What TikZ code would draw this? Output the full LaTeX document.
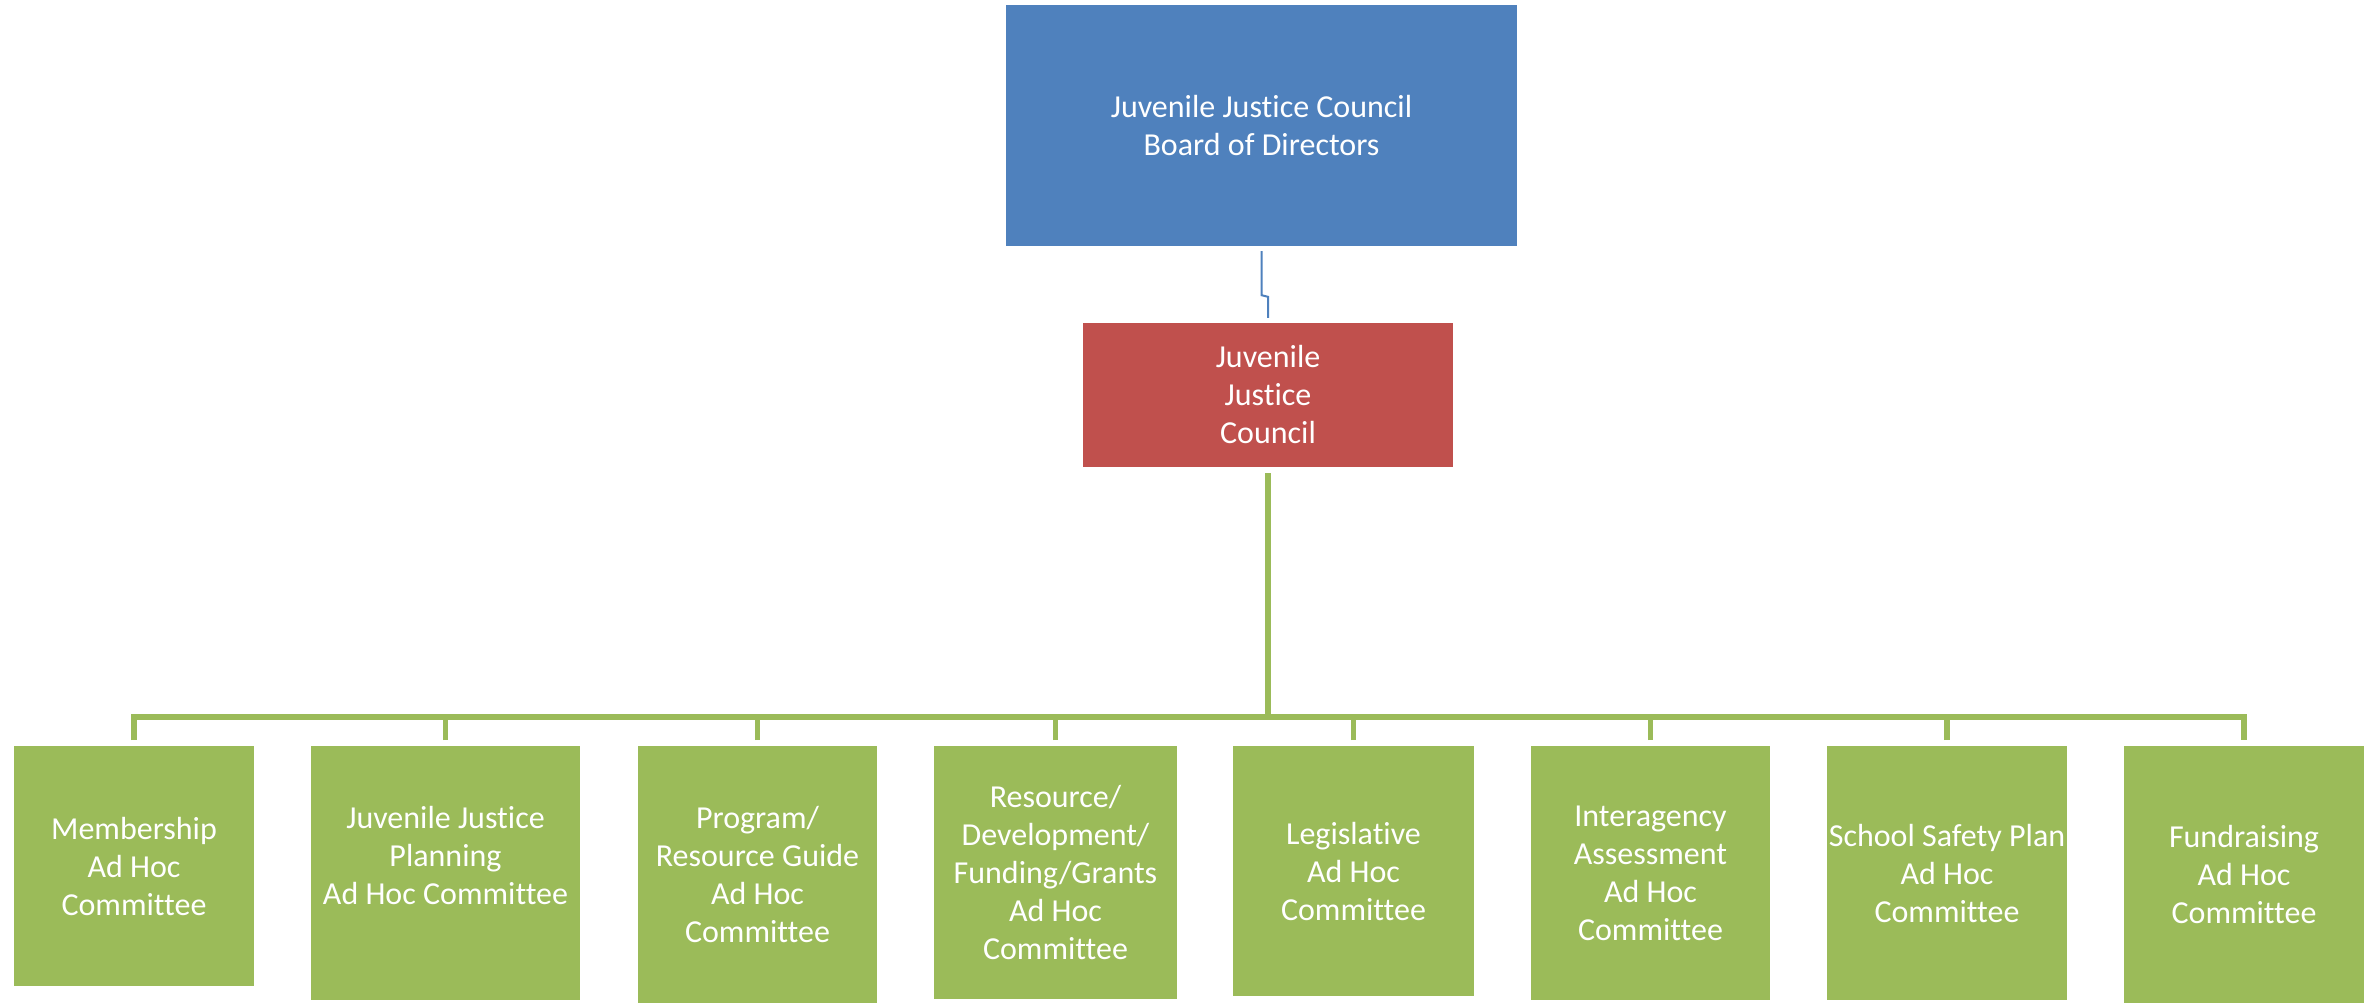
\documentclass[tikz,border=0pt]{standalone}
\usepackage{fontspec}
\setmainfont{Carlito}[Ligatures=CommonOff]
\usepackage{tikz}
\usetikzlibrary{positioning}
\definecolor{boardblue}{HTML}{4F81BD}
\definecolor{councilred}{HTML}{C0504D}
\definecolor{committeegreen}{HTML}{9BBB59}
\tikzset{
x=1pt, y=-1pt, % one unit is one pixel of the chart, y runs downwards
every node/.style={text=white, align=center, inner sep=0pt, font=\fontsize{32}{38}\selectfont},
board/.style={fill=boardblue, minimum width=511pt, minimum height=241pt}, % top box
council/.style={fill=councilred, minimum width=370pt, minimum height=144pt},
committee/.style={fill=committeegreen, anchor=north, minimum width=240pt}, % the eight boxes
bluelink/.style={draw=boardblue, line width=2pt},
greenlink/.style={draw=committeegreen, line width=5.5pt},
}
\begin{document}
\begin{tikzpicture}
		\useasboundingbox (0,0) rectangle (2371,1003);
		\node[board] (board) at (1261.5,125.5) {Juvenile Justice Council\\Board of Directors};
		\node[council] (jjc) at (1268,395) {Juvenile\\Justice\\Council};
		\node[committee, minimum height=240pt] (c1) at (134,746) {Membership\\Ad Hoc\\Committee};
		\node[committee, minimum width=269pt, minimum height=254pt] (c2) at (445.5,746) {};
		\node (c2text) at ([yshift=18pt]c2.center) {Juvenile Justice\\Planning\\Ad Hoc Committee};
		\node[committee, minimum width=239pt, minimum height=257pt] (c3) at (757.5,746) {Program/\\Resource Guide\\Ad Hoc\\Committee};
		\node[committee, minimum width=243pt, minimum height=253pt] (c4) at (1055.5,746) {Resource/\\Development/\\Funding/Grants\\Ad Hoc\\Committee};
		\node[committee, minimum width=241pt, minimum height=250pt] (c5) at (1353.5,746) {Legislative\\Ad Hoc\\Committee};
		\node[committee, minimum width=239pt, minimum height=254pt] (c6) at (1650.5,746) {Interagency\\Assessment\\Ad Hoc\\Committee};
		\node[committee, minimum height=254pt] (c7) at (1947,746) {School Safety Plan\\Ad Hoc\\Committee};
		\node[committee, minimum height=257pt] (c8) at (2244,746) {Fundraising\\Ad Hoc\\Committee};
		\coordinate (bus) at (1268,717);
%		board to council, with its small jog
		\draw[bluelink] ([yshift=-5pt]board.south) -- ++(0pt,-44pt) -- ([yshift=26pt]jjc.north) -- ([yshift=5pt]jjc.north);
		\draw[greenlink] ([yshift=-6pt]jjc.south) -- (bus);
		\draw[greenlink] ([yshift=6pt]c1.north) |- (bus) -| ([yshift=6pt]c8.north);
		\foreach \c in {c2,c3,c4,c5,c6,c7}
			\draw[greenlink] ([yshift=6pt]\c.north) -- (\c.north |- bus);
	\end{tikzpicture}
\end{document}
